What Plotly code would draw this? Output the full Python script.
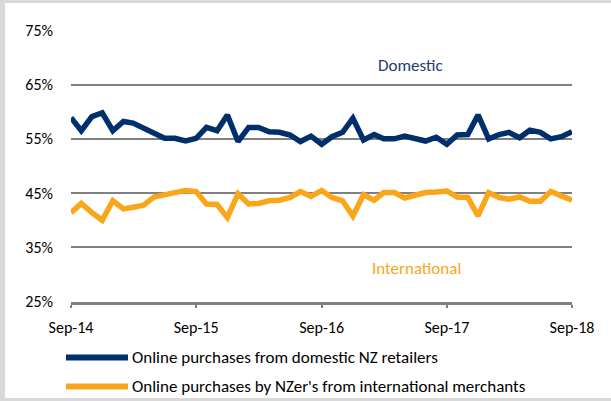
import pandas as pd
import plotly.graph_objects as go

# ---- data ----
dates = pd.date_range("2014-09-01", periods=49, freq="MS")
domestic = [58.9, 56.5, 59.1, 59.8, 56.5, 58.2, 57.9, 56.9, 55.9, 55.1, 55.1, 54.6,
            55.1, 57.1, 56.5, 59.4, 54.5, 57.1, 57.1, 56.3, 56.2, 55.7, 54.5, 55.5,
            54.0, 55.4, 56.2, 58.8, 54.8, 55.8, 55.0, 55.0, 55.5, 55.1, 54.6, 55.3,
            54.0, 55.7, 55.8, 59.4, 55.0, 55.8, 56.2, 55.2, 56.6, 56.2, 55.0, 55.4,
            56.3]
international = [41.4, 43.1, 41.4, 40.0, 43.6, 42.1, 42.4, 42.8, 44.3, 44.7, 45.1, 45.5,
                 45.3, 43.0, 42.9, 40.5, 44.9, 43.0, 43.1, 43.6, 43.7, 44.2, 45.3, 44.4,
                 45.5, 44.2, 43.6, 40.8, 44.7, 43.7, 45.1, 45.1, 44.1, 44.5, 45.1, 45.2,
                 45.4, 44.3, 44.2, 40.8, 45.1, 44.2, 43.9, 44.3, 43.5, 43.5, 45.3, 44.5,
                 43.7]
series_names = ["Online purchases from domestic NZ retailers",
                "Online purchases by NZer's from international merchants"]
label_domestic = "Domestic"
label_international = "International"

NAVY = "#002F6C"
ORANGE = "#FAA61A"
FONT = "Carlito, 'Liberation Sans', Arial, sans-serif"
FS_TICK = 16
FS_TEXT = 17

W, H = 611, 401
L, R, T, B = 71, 39, 30, 99
PW, PH = W - L - R, H - T - B


def px(x):
    return (x - L) / PW


def py(y):
    return (H - B - y) / PH


fig = go.Figure()
fig.add_trace(go.Scatter(x=dates, y=domestic, mode="lines", name=series_names[0],
                         line=dict(color=NAVY, width=5.5), showlegend=False))
fig.add_trace(go.Scatter(x=dates, y=international, mode="lines", name=series_names[1],
                         line=dict(color=ORANGE, width=5.5), showlegend=False))

shapes = [
    dict(type="rect", xref="paper", yref="paper", x0=px(5), x1=px(611), y0=py(398), y1=py(3),
         fillcolor="white", line=dict(width=0), layer="below"),
    dict(type="line", xref="paper", yref="paper", x0=px(66), x1=px(128), y0=py(357.5), y1=py(357.5),
         line=dict(color=NAVY, width=6)),
    dict(type="line", xref="paper", yref="paper", x0=px(66), x1=px(128), y0=py(386.5), y1=py(386.5),
         line=dict(color=ORANGE, width=6)),
]

annotations = [
    dict(text=label_domestic, xref="paper", yref="paper", x=px(410), y=py(65),
         xanchor="center", yanchor="middle", showarrow=False,
         font=dict(family=FONT, size=FS_TEXT, color="#1F3C70")),
    dict(text=label_international, xref="paper", yref="paper", x=px(416), y=py(268),
         xanchor="center", yanchor="middle", showarrow=False,
         font=dict(family=FONT, size=FS_TEXT, color=ORANGE)),
    dict(text=series_names[0], xref="paper", yref="paper", x=px(130), y=py(357),
         xanchor="left", yanchor="middle",
         showarrow=False, font=dict(family=FONT, size=FS_TEXT, color="black")),
    dict(text=series_names[1], xref="paper", yref="paper", x=px(130), y=py(386),
         xanchor="left", yanchor="middle",
         showarrow=False, font=dict(family=FONT, size=FS_TEXT, color="black")),
]

fig.update_layout(
    width=W, height=H,
    margin=dict(l=L, r=R, t=T, b=B),
    paper_bgcolor="#d9d9d9",
    plot_bgcolor="white",
    shapes=shapes,
    annotations=annotations,
    font=dict(family=FONT, size=FS_TICK, color="black"),
    xaxis=dict(
        type="date",
        range=["2014-09-01", "2018-09-01"],
        tick0="2014-09-01", dtick="M12", tickformat="%b-%y",
        showgrid=False, zeroline=False,
        showline=True, linecolor="#808080", linewidth=3,
        ticks="outside", ticklen=3, tickwidth=2, tickcolor="#808080",
        ticklabelstandoff=6,
        tickfont=dict(family=FONT, size=FS_TICK, color="black"),
        fixedrange=True,
    ),
    yaxis=dict(
        range=[24.95, 75.05], tick0=25, dtick=10, ticksuffix="%",
        showgrid=True, gridcolor="#808080", gridwidth=2,
        zeroline=False, showline=False, ticks="",
        ticklabelstandoff=17,
        tickfont=dict(family=FONT, size=FS_TICK, color="black"),
        fixedrange=True,
    ),
)

fig.write_html("out.html", config={"displayModeBar": False},
               post_script="document.body.style.margin='0';")
